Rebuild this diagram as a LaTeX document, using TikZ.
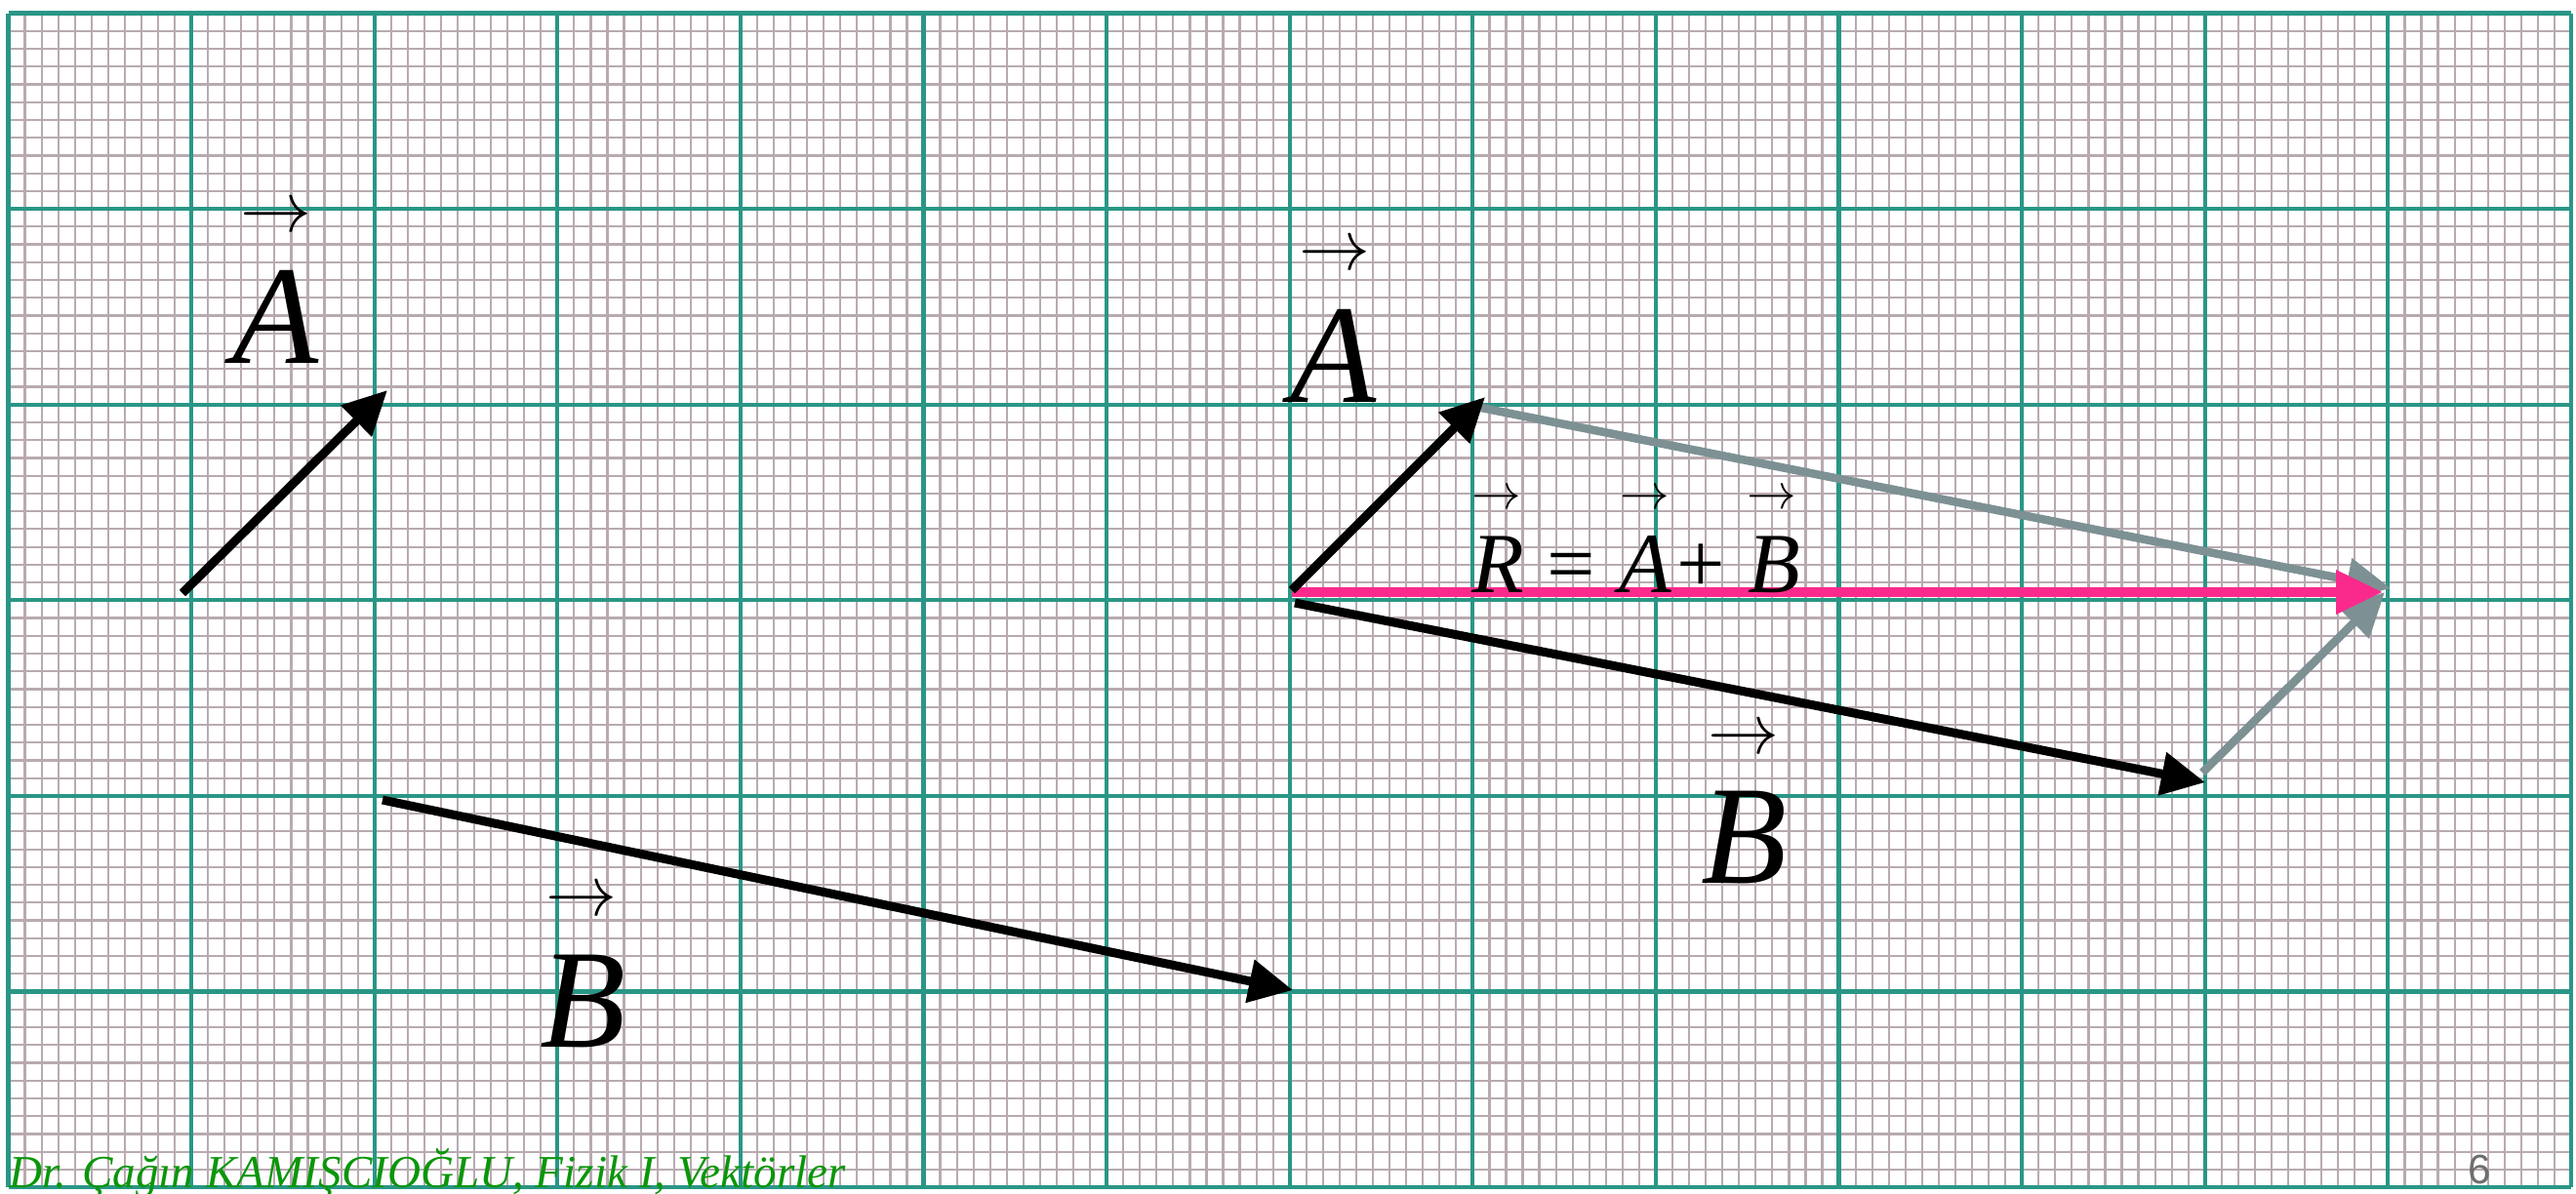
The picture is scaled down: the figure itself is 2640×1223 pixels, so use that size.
\documentclass[tikz,border=0pt]{standalone}
\usepackage{fontspec}
\setmainfont{Liberation Serif}
\newfontfamily\numfont{Liberation Sans}
\usetikzlibrary{arrows.meta}
\definecolor{majorgrid}{RGB}{42,150,134}
\definecolor{minorgrid}{RGB}{184,170,176}
\definecolor{vecgray}{RGB}{125,145,148}
\definecolor{vecpink}{RGB}{250,42,140}
\definecolor{footgreen}{RGB}{10,150,10}
\definecolor{pagegray}{RGB}{110,110,110}
\begin{document}
\begin{tikzpicture}[x=0.01cm,y=-0.01cm,
  vecblack/.style={draw=black, line width=0.09cm, -{Triangle[length=0.45cm,width=0.43cm]}},
  vecgrey/.style={draw=vecgray, line width=0.085cm, -{Triangle[length=0.45cm,width=0.43cm]}},
  vecres/.style={draw=vecpink, line width=0.1cm, -{Triangle[length=0.48cm,width=0.43cm]}},
  biglet/.style={font=\fontsize{41}{41}\selectfont\itshape, inner sep=0pt, anchor=base},
  bigarr/.style={font=\fontsize{22}{22}\selectfont, inner sep=0pt},
  eqlet/.style={font=\fontsize{25}{25}\selectfont\itshape, inner sep=0pt, anchor=base},
  eqsym/.style={font=\fontsize{25}{25}\selectfont, inner sep=0pt, anchor=base},
  eqarr/.style={font=\fontsize{13.6}{13.6}\selectfont, inner sep=0pt},
  minorline/.style={draw=minorgrid, line width=0.022cm},
  majorline/.style={draw=majorgrid, line width=0.042cm}
]
\useasboundingbox (0,0) rectangle (2640,1223);
\fill[white] (0,0) rectangle (2640,1223);
% graph paper
\foreach \i in {0,...,154} \draw[minorline] ({8.5+\i*17.055},13.5) -- ({8.5+\i*17.055},1217);
\foreach \j in {0,...,66} \draw[minorline] (8.5,{13.5+\j*18.236}) -- (2635,{13.5+\j*18.236});
\foreach \i in {0,...,14} \draw[majorline] ({8.5+\i*187.6},13.5) -- ({8.5+\i*187.6},1217);
\foreach \j in {0,...,6} \draw[majorline] (8.5,{13.5+\j*200.6}) -- (2635,{13.5+\j*200.6});

% end points
\coordinate (A1s) at (187,608);
\coordinate (A1e) at (397,400);
\coordinate (B1s) at (392,820);
\coordinate (B1e) at (1325,1015);
\coordinate (O) at (1324,605);
\coordinate (A2e) at (1522,407);
\coordinate (B2s) at (1327,618);
\coordinate (B2e) at (2260,802);
\coordinate (G1s) at (1518,418);
\coordinate (G1e) at (2450,603);
\coordinate (G2s) at (2257,792);
\coordinate (G2e) at (2444,607);
\coordinate (Rs) at (1324,607);
\coordinate (Re) at (2442,607);

% left vectors
\draw[vecblack] (A1s) -- (A1e);
\draw[vecblack] (B1s) -- (B1e);
% right construction
\draw[vecgrey] (G1s) -- (G1e);
\draw[vecgrey] (G2s) -- (G2e);
\draw[vecres] (Rs) -- (Re);
\draw[vecblack] (O) -- (A2e);
\draw[vecblack] (B2s) -- (B2e);

% labels
\node[bigarr] (lAarr) at (283,224) {$\rightarrow$};
\node[biglet] (lA) at (283,372) {A};
\node[bigarr] (rAarr) at (1368,263) {$\rightarrow$};
\node[biglet] (rA) at (1367,412) {A};
\node[bigarr] (lBarr) at (596,925) {$\rightarrow$};
\node[biglet] (lB) at (598,1073) {B};
\node[bigarr] (rBarr) at (1787,759) {$\rightarrow$};
\node[biglet] (rB) at (1788,905) {B};

% equation
\node[eqarr] (eRarr) at (1534,512) {$\rightarrow$};
\node[eqarr] (eAarr) at (1686,512) {$\rightarrow$};
\node[eqarr] (eBarr) at (1816,512) {$\rightarrow$};
\node[eqlet] (eR) at (1535,607) {R};
\node[eqsym] (eEq) at (1610,607) {=};
\node[eqlet] (eA) at (1686,607) {A};
\node[eqsym] (ePlus) at (1743,607) {+};
\node[eqlet] (eB) at (1818,607) {B};

% footer
\node[font=\fontsize{13.4}{13.4}\selectfont\itshape, text=footgreen, anchor=base west, inner sep=0pt] (footer) at (9,1217) {Dr. Çağın KAMIŞCIOĞLU, Fizik I, Vektörler};
\node[font=\numfont\fontsize{12}{12}\selectfont, text=pagegray, anchor=base, inner sep=0pt] (page) at (2541,1213) {6};
\end{tikzpicture}
\end{document}
